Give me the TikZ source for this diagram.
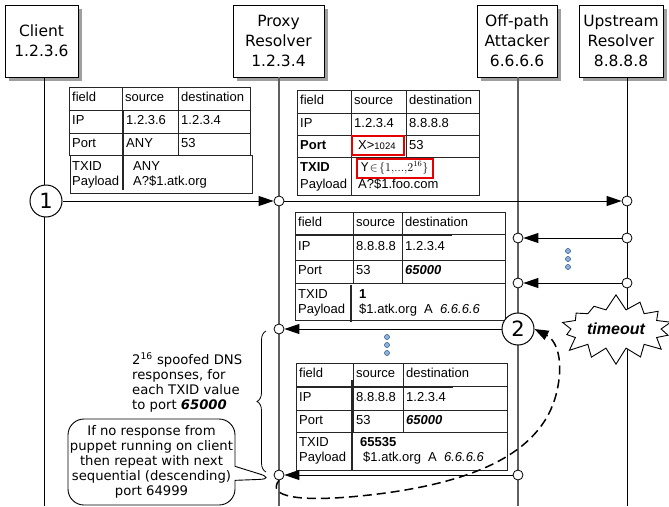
\documentclass[tikz,border=0pt]{standalone}
\usepackage{fontspec}
\setmainfont{DejaVu Sans}
\newfontfamily\tabf{Liberation Sans}
\newfontfamily\hdrf{DejaVu Sans}
\usetikzlibrary{arrows.meta,shapes.symbols,shapes.callouts,shadows,decorations.pathreplacing}
\definecolor{dotfill}{HTML}{8DB4E2}
\definecolor{dotedge}{HTML}{3C5A80}
\begin{document}
\begin{tikzpicture}[x=1pt,y=-1pt,
  hdr/.style={draw, fill=white, line width=0.9pt, align=center, inner sep=0pt,
    font=\hdrf\fontsize{15.5}{20}\selectfont, minimum height=72pt,
    drop shadow={shadow xshift=4pt, shadow yshift=-4pt, fill=gray!75, opacity=1}},
  life/.style={line width=1pt, black},
  glife/.style={line width=1.3pt, gray!75!black},
  dot/.style={circle, draw, fill=white, inner sep=0pt, minimum size=10pt, line width=0.8pt},
  bigc/.style={circle, draw, fill=white, line width=1pt, minimum size=32pt, inner sep=0pt,
    font=\hdrf\fontsize{21}{21}\selectfont},
  msg/.style={line width=1pt, -{Triangle[length=15pt,width=10pt]}},
  tline/.style={line width=0.8pt, black!85},
  thk/.style={line width=2pt, black!85},
  redbox/.style={line width=1.5pt, red!90!black},
  tc/.style={anchor=west, inner sep=0pt, font=\tabf\fontsize{13}{15}\selectfont,
    text height=9pt, text depth=2.5pt},
  edot/.style={circle, draw=dotedge, fill=dotfill, inner sep=0pt, minimum size=5pt, line width=0.6pt},
  note/.style={font=\hdrf\fontsize{13.2}{15}\selectfont, inner sep=1pt}
]
\useasboundingbox (0,0) rectangle (669,506);

% header boxes
\node[hdr, minimum width=73pt] (client) at (41.5,41) {Client\\1.2.3.6};
\node[hdr, minimum width=91pt] (proxy) at (278.5,41) {Proxy\\Resolver\\1.2.3.4};
\node[hdr, minimum width=80pt] (attacker) at (517,41) {Off-path\\Attacker\\6.6.6.6};
\node[hdr, minimum width=84pt] (upstream) at (621,41) {Upstream\\Resolver\\8.8.8.8};

% lifelines
\coordinate (clB) at (44,506);
\coordinate (prB) at (279,506);
\coordinate (atB) at (518,506);
\coordinate (upB) at (627,506);
\draw[life] (client.south -| clB) -- (clB);
\draw[glife] (proxy.south -| prB) -- (prB);
\draw[glife] (attacker.south -| atB) -- (atB);
\draw[life] (upstream.south -| upB) -- (upB);

% table 1
\draw[tline] (69,87) rectangle (250,155);
\draw[tline] (69,110) -- (250,110) (69,133) -- (250,133) (122,87) -- (122,110) (178,87) -- (178,155);
\draw[tline] (70,155) rectangle (252,193);
\draw[thk] (123,110) -- (123,190);
\node[tc] (t1a) at (72,98.5) {field};
\node[tc] (t1b) at (125,98.5) {source};
\node[tc] (t1c) at (181,98.5) {destination};
\node[tc] (t1d) at (72,121.5) {IP};
\node[tc] (t1e) at (126,121.5) {1.2.3.6};
\node[tc] (t1f) at (181,121.5) {1.2.3.4};
\node[tc] (t1g) at (72,144) {Port};
\node[tc] (t1h) at (126,144) {ANY};
\node[tc] (t1i) at (181,144) {53};
\node[tc] (t1j) at (72,167) {TXID};
\node[tc] (t1k) at (72,182) {Payload};
\node[tc] (t1l) at (133,167) {ANY};
\node[tc] (t1m) at (133,182) {A?\$1.atk.org};

% table 2
\draw[tline] (297,90) rectangle (479,157);
\draw[tline] (297,113) -- (479,113) (297,135) -- (479,135) (351,90) -- (351,195) (406,90) -- (406,157);
\draw[tline] (297,157) rectangle (479,195);
\node[tc] (t2a) at (300,101.5) {field};
\node[tc] (t2b) at (354,101.5) {source};
\node[tc] (t2c) at (409,101.5) {destination};
\node[tc] (t2d) at (300,124) {IP};
\node[tc] (t2e) at (354,124) {1.2.3.4};
\node[tc] (t2f) at (409,124) {8.8.8.8};
\node[tc] (t2g) at (300,146) {\bfseries Port};
\node[tc] (t2h) at (358,146) {X>{\fontsize{9.5}{10}\selectfont 1024}};
\node[tc] (t2i) at (409,146) {53};
\node[tc] (t2j) at (300,168) {\bfseries TXID};
\node[tc] (t2k) at (300,185) {Payload};
\node[tc] (t2l) at (361,168) {\fontsize{12}{14}\selectfont$\mathrm{Y}\!\in\!\{1,\!...,\!2^{16}\}$};
\node[tc] (t2m) at (358,185) {A?\$1.foo.com};
\draw[redbox] (352,136) rectangle (404,155);
\draw[redbox] (357,159) rectangle (433,178);

% table 3
\draw[tline] (295,212) rectangle (505,283);
\draw[tline] (295,234) -- (505,234) (295,260) -- (505,260) (353,212) -- (353,283) (402,212) -- (402,283);
\draw[tline] (295,283) rectangle (505,320);
\draw[thk] (351,285) -- (351,322);
\draw[thk] (295,235) -- (452,235);
\node[tc] (t3a) at (298,223) {field};
\node[tc] (t3b) at (356,223) {source};
\node[tc] (t3c) at (405,223) {destination};
\node[tc] (t3d) at (298,247) {IP};
\node[tc] (t3e) at (356,247) {8.8.8.8};
\node[tc] (t3f) at (405,247) {1.2.3.4};
\node[tc] (t3g) at (298,271.5) {Port};
\node[tc] (t3h) at (356,271.5) {53};
\node[tc] (t3i) at (405,271.5) {\bfseries\itshape 65000};
\node[tc] (t3j) at (298,295) {TXID};
\node[tc] (t3k) at (298,310) {Payload};
\node[tc] (t3l) at (359,295) {\bfseries 1};
\node[tc] (t3m) at (359,310) {\$1.atk.org\ \ A\ \ \itshape 6.6.6.6};

% table 4
\draw[tline] (296,363) rectangle (507,432);
\draw[tline] (296,386) -- (507,386) (296,410) -- (507,410) (353,363) -- (353,432) (403,363) -- (403,432);
\draw[tline] (296,432) rectangle (507,470);
\draw[thk] (352,380) -- (352,470);
\draw[thk] (296,387) -- (453,387);
\node[tc] (t4a) at (299,374.5) {field};
\node[tc] (t4b) at (356,374.5) {source};
\node[tc] (t4c) at (406,374.5) {destination};
\node[tc] (t4d) at (299,398) {IP};
\node[tc] (t4e) at (356,398) {8.8.8.8};
\node[tc] (t4f) at (406,398) {1.2.3.4};
\node[tc] (t4g) at (299,421) {Port};
\node[tc] (t4h) at (356,421) {53};
\node[tc] (t4i) at (406,421) {\bfseries\itshape 65000};
\node[tc] (t4j) at (299,443) {TXID};
\node[tc] (t4k) at (299,458) {Payload};
\node[tc] (t4l) at (360,443) {\bfseries 65535};
\node[tc] (t4m) at (363,458) {\$1.atk.org\ \ A\ \ \itshape 6.6.6.6};

% message end points
\node[bigc] (n1) at (46,201) {1};
\node[dot] (p1) at (279,201) {};
\node[dot] (u1) at (627,201) {};
\node[dot] (u2) at (627,238) {};
\node[dot] (a2) at (518,238) {};
\node[dot] (u3) at (627,283) {};
\node[dot] (a3) at (518,283) {};
\node[bigc] (n2) at (518,329) {2};
\node[dot] (p2) at (279,329) {};
\node[dot] (a4) at (518,475) {};
\node[dot] (p3) at (279,475) {};

% messages
\draw[msg] (n1) -- (p1);
\draw[msg] (p1) -- (u1);
\draw[msg] (u2) -- (a2);
\draw[msg] (u3) -- (a3);
\draw[msg] (n2) -- (p2);
\draw[msg] (a4) -- (p3);

% ellipsis dots
\node[edot] (e1) at (568,251) {};
\node[edot] (e2) at (568,259) {};
\node[edot] (e3) at (568,267) {};
\node[edot] (e4) at (387,337) {};
\node[edot] (e5) at (387,345) {};
\node[edot] (e6) at (387,353) {};

% timeout
\node[starburst, draw, fill=white, line width=0.9pt, starburst points=14, starburst point height=16pt,
  random starburst=7, inner xsep=3pt, inner ysep=8pt,
  font=\tabf\fontsize{16}{16}\selectfont\bfseries\itshape] (timeout) at (616,329) {timeout};

% dashed loop back
\draw[line width=1.5pt, dash pattern=on 9pt off 5pt, -{Triangle[length=14pt,width=10pt]}]
  (p3.south) .. controls (266,497) and (300,502) .. (360,496)
  .. controls (470,485) and (540,455) .. (556,395)
  .. controls (565,360) and (556,340) .. (n2.east);

% brace and its text
\draw[line width=0.8pt, decorate, decoration={brace, amplitude=9pt}] (266,472) -- (266,331);
\node[note, anchor=west, align=left, inner sep=0pt] (btxt) at (132,382.5)
  {2\textsuperscript{16} spoofed DNS\\responses, for\\each TXID value\\to port \textbf{\textit{65000}}};

% callout
\node[note, rectangle callout, draw, fill=white, line width=0.9pt, rounded corners=16pt,
  minimum width=167pt, minimum height=86pt, align=center, callout pointer width=14pt,
  callout absolute pointer={(p3.south west)}] (callout) at (151.5,462)
  {If no response from\\puppet running on client\\then repeat with next\\sequential (descending)\\port 64999};
\end{tikzpicture}
\end{document}
